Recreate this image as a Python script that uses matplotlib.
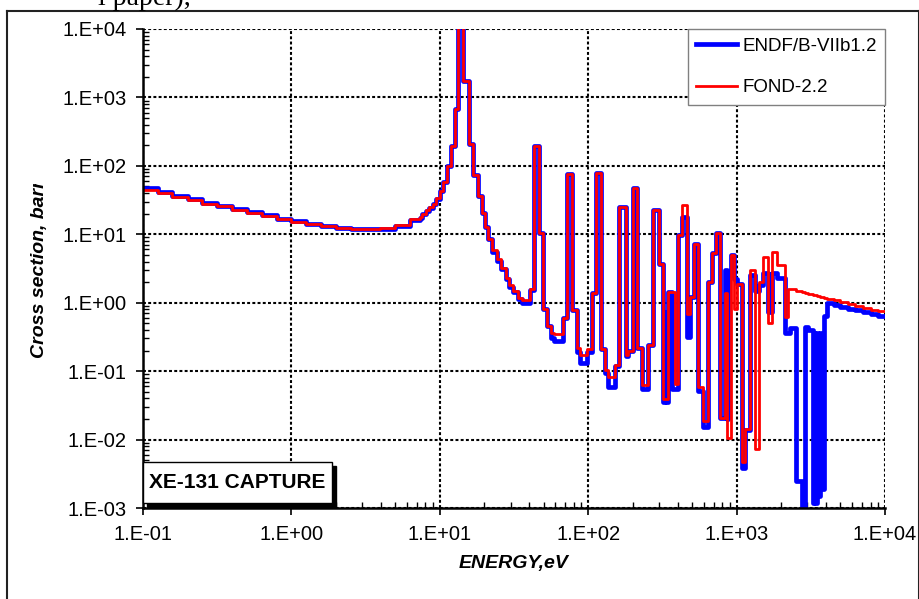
# -*- coding: utf-8 -*-

#---    Packages
import numpy as np
import matplotlib
matplotlib.use('Agg')
import matplotlib.pyplot as plt
from matplotlib.ticker import FuncFormatter, LogLocator, NullFormatter
from matplotlib.patches import Rectangle
from matplotlib.lines import Line2D
from matplotlib.transforms import Bbox, TransformedBbox

plt.rcParams['font.family'] = ['Liberation Sans', 'DejaVu Sans']

#---    Group structure (eV) and cross sections (barn)
edges_thermal = [0.1, 0.126, 0.158, 0.2, 0.251, 0.316, 0.398, 0.501, 0.631, 0.794,
                 1.0, 1.26, 1.58, 2.0, 2.51, 3.16, 3.98, 5.01, 6.31]
endf_thermal = [48, 41, 36.5, 32.5, 28.8, 26, 23.5, 21, 19, 17,
                15.4, 14.3, 13.2, 12.3, 11.8, 11.8, 12.1, 13.2, 16]
fond_thermal = [44.5, 39.5, 35.5, 31.5, 28, 25.5, 23, 20.6, 18.6, 16.8,
                15.2, 14.2, 13.1, 12.2, 11.8, 11.8, 12.3, 13.6, 16.5]

edges_res1 = [7.36, 7.55, 8.07, 8.50, 8.96, 9.43, 10.03, 10.56, 11.13, 11.85,
              12.66, 13.33, 14.40, 15.81, 16.82, 18.17, 19.16, 20.17, 21.23, 22.38,
              24.18, 25.85, 27.93, 29.40, 31.28, 33.49, 35.64, 40.54]
endf_res1 = [17.3, 19.6, 22, 24.5, 27.5, 33, 43, 58, 98, 194,
             676, 2.0e4, 1750, 207, 72.8, 35.9, 20.2, 12.6, 8.4, 5.6,
             4.1, 3.1, 2.2, 1.7, 1.45, 1.15, 1.0, 1.55]
fond_res1 = [17.6, 20, 22.5, 25, 28, 33.5, 43.6, 59, 98.6, 194,
             676, 2.0e4, 1750, 207, 72.8, 35.9, 20.2, 12.6, 8.4, 5.8,
             4.3, 3.2, 2.3, 1.79, 1.5, 1.19, 1.1, 1.6]

edges_res2 = [42.8, 46.6, 49.8, 52.5, 55.9, 58.8, 67.95, 72.3, 77.4, 83.6,
              88.1, 97.7, 105.6, 112.9, 121.4, 129.8, 136.6, 151.6, 162.0, 178.9,
              186.3, 199.5, 214.2, 229.3, 254.1, 274.7, 300.1, 317.7, 328, 336,
              345, 367, 384.5, 402.8, 426.6, 465.4, 485.3, 516.4, 552.0, 591.0,
              638.7, 679.5, 726.4, 773.0, 835.3, 861.6, 875.0, 912.5, 960.5, 1006,
              1087, 1148, 1231, 1330, 1416, 1506, 1635, 1724, 1871, 2119,
              2231, 2289, 2514, 2747, 2891, 3043, 3258, 3330, 3400, 3465,
              3560, 3648, 3760, 3882, 4049, 4500, 5000, 5600, 6300, 7100,
              8000, 9000, 10000]
endf_res2 = [194, 10.3, 0.82, 0.46, 0.31, 0.28, 0.59, 75, 0.77, 0.19,
             0.13, 0.19, 1.37, 78, 0.21, 0.093, 0.058, 0.12, 24.8, 0.165,
             0.2, 48, 0.22, 0.055, 0.245, 22.4, 3.7, 0.036, 0.73, 0.036,
             1.42, 0.055, 0.055, 9.6, 18, 0.32, 1.22, 7.3, 0.052, 0.0155,
             2.0, 5.4, 10.3, 0.021, 3.0, 0.02, 2.5, 4.9, 2.2, 1.9,
             0.0038, 0.0136, 2.5, 1.5, 1.8, 2.7, 0.74, 2.7, 2.3, 0.36,
             0.36, 0.42, 0.0025, 0.0008, 0.44, 0.40, 0.0012, 0.36, 0.0012, 0.36,
             0.0015, 0.36, 0.0019, 0.64, 0.98, 0.93, 0.87, 0.82, 0.77, 0.73,
             0.68, 0.64]
fond_res2 = [194, 10.3, 0.82, 0.46, 0.355, 0.35, 0.59, 75, 0.77, 0.22,
             0.17, 0.21, 1.37, 78, 0.21, 0.105, 0.082, 0.124, 24.8, 0.17,
             0.2, 48, 0.22, 0.063, 0.245, 22.4, 3.7, 0.039, 0.039, 0.039,
             1.42, 1.42, 0.064, 9.6, 26.5, 0.68, 1.22, 7.3, 0.058, 0.0185,
             2.0, 5.4, 10.3, 0.021, 1.37, 0.0105, 0.0105, 4.9, 0.81, 1.9,
             0.0047, 0.0145, 3.0, 0.0074, 2.0, 4.6, 0.5, 5.5, 3.5, 0.62,
             1.56, 1.56, 1.48, 1.42, 1.40, 1.35, 1.30, 1.30, 1.28, 1.26,
             1.24, 1.22, 1.20, 1.17, 1.14, 1.08, 1.02, 0.96, 0.90, 0.85,
             0.79, 0.75]

labels = ['ENDF/B-VIIb1.2', 'FOND-2.2']
title_box = 'XE-131 CAPTURE'

edges = np.array(edges_thermal + edges_res1 + edges_res2)
endf = np.array(endf_thermal + endf_res1 + endf_res2)
fond = np.array(fond_thermal + fond_res1 + fond_res2)

#---    Figure
fig = plt.figure(figsize=(9.2, 5.99), dpi=100)
ax = fig.add_axes([143/920, 1 - 508/599, 742/920, 479/599])

l1, = ax.step(edges, np.append(endf, endf[-1]), where='post', color='#0000FF', linewidth=3.4)
l2, = ax.step(edges, np.append(fond, fond[-1]), where='post', color='#FF0000', linewidth=2.0)

ax.set_xscale('log')
ax.set_yscale('log')
ax.set_xlim(0.1, 1e4)
ax.set_ylim(1e-3, 1e4)

fmt = FuncFormatter(lambda v, p: '1.E%+03d' % int(round(np.log10(v))))
ax.xaxis.set_major_formatter(fmt)
ax.yaxis.set_major_formatter(fmt)
ax.xaxis.set_minor_locator(LogLocator(base=10, subs=np.arange(2, 10), numticks=50))
ax.yaxis.set_minor_locator(LogLocator(base=10, subs=np.arange(2, 10), numticks=50))
ax.xaxis.set_minor_formatter(NullFormatter())
ax.yaxis.set_minor_formatter(NullFormatter())

ax.tick_params(which='major', direction='out', length=5, width=1.2, labelsize=14.5, pad=7, colors='black')
ax.tick_params(which='minor', direction='in', length=4, width=1.0)

dots = (0, (1.4, 1.1))
ax.grid(True, which='major', color='black', linestyle=dots, linewidth=1.5)
for s in ['left', 'bottom']:
    ax.spines[s].set_linewidth(1.8)
for s in ['top', 'right']:
    ax.spines[s].set_visible(False)

ax.set_xlabel('ENERGY,eV', fontsize=14, fontweight='bold', fontstyle='italic', labelpad=8)

ylab = fig.text(40/920, 1 - 267/599, 'Cross section, barn', rotation=90, ha='center', va='center',
                fontsize=14, fontweight='bold', fontstyle='italic')
ylab.set_clip_box(TransformedBbox(Bbox([[0, 0], [1, 1 - 184/599]]), fig.transFigure))
ylab.set_clip_on(True)

leg = ax.legend([l1, l2], labels, loc='upper right', bbox_to_anchor=(1, 1), borderaxespad=0,
                fancybox=False, edgecolor='#808080', framealpha=1, fontsize=13.5,
                handlelength=2.2, handletextpad=0.25, labelspacing=1.3, borderpad=0.45)
leg.get_frame().set_linewidth(1.0)

#---    Title box with shadow
bx, by, bw, bh = 143/920, 1 - 503/599, 189/920, 41/599
fig.add_artist(Rectangle((bx + 4/920, by - 4/599), bw, bh, transform=fig.transFigure,
                         facecolor='black', edgecolor='black', zorder=5))
fig.add_artist(Rectangle((bx, by), bw, bh, transform=fig.transFigure,
                         facecolor='white', edgecolor='black', linewidth=1, zorder=6))
fig.text(bx + bw/2, by + bh/2, title_box, ha='center', va='center', fontsize=15,
         fontweight='bold', zorder=7)

#---    Outer frame and cut-off text above it
frame = dict(color='#222222', linewidth=1.5, transform=fig.transFigure)
fig.add_artist(Line2D([7/920, 919/920], [1 - 11/599, 1 - 11/599], **frame))
fig.add_artist(Line2D([7/920, 7/920], [0, 1 - 11/599], **frame))
fig.add_artist(Line2D([919/920, 919/920], [0, 1 - 11/599], **frame))
fig.text(98/920, 1 - 5/599, 'l paper),', family='Liberation Serif', fontsize=20, va='baseline')

plt.savefig('out.png', dpi=100)
